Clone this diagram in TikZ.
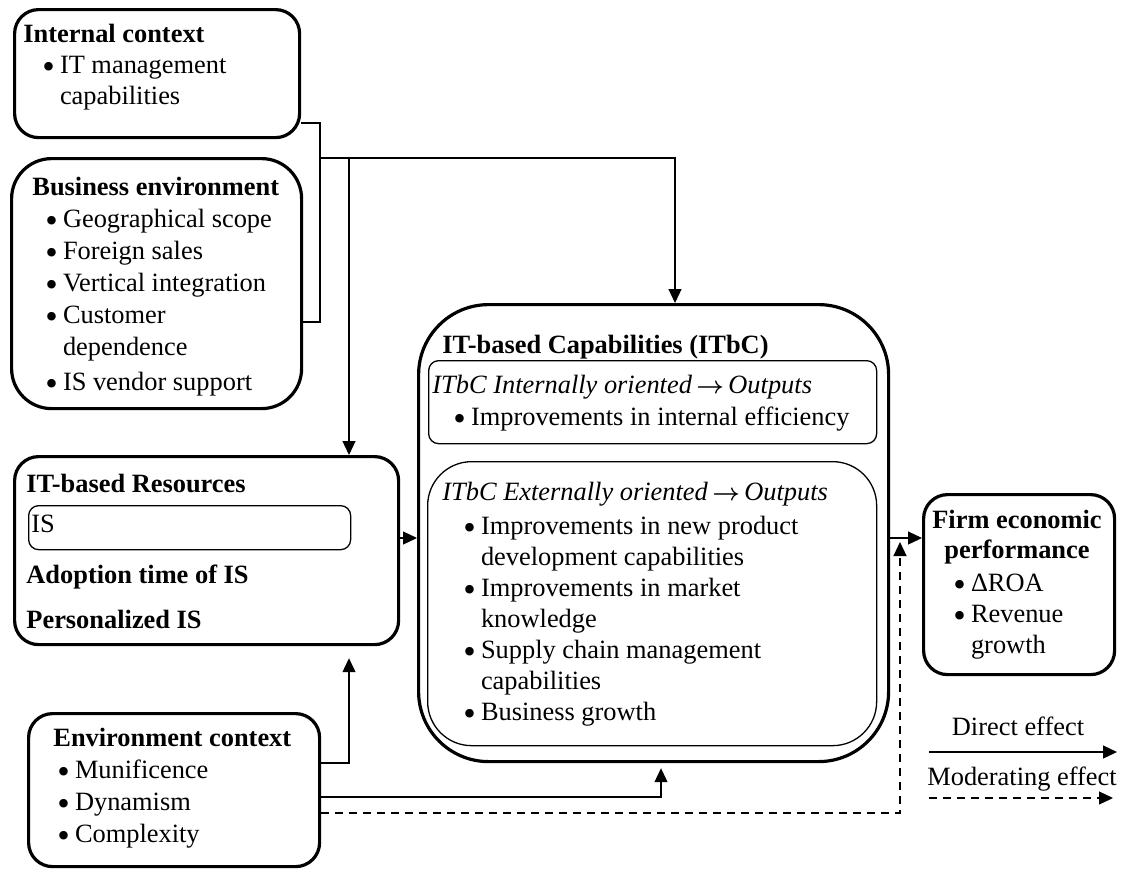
\documentclass[tikz,border=0pt]{standalone}
\usepackage{fontspec}
\usepackage{amsmath}
\usepackage{graphicx}
\setmainfont{Liberation Serif}
\usetikzlibrary{arrows.meta}
\tikzset{
  bigbox/.style={draw,line width=1.6pt,rounded corners=12pt,inner sep=0pt,anchor=north west},
  thinbox/.style={draw,line width=0.65pt,rounded corners=5pt,inner sep=0pt,anchor=north west},
  txt/.style={inner sep=0pt,anchor=base west,align=left,font=\fontsize{13.2}{15.5}\selectfont},
  link/.style={line width=0.6pt,-{Triangle[length=7pt,width=6.5pt]}},
  modlink/.style={link,dash pattern=on 4pt off 3pt},
}
\newcommand{\bul}{\makebox[8.8pt][l]{\raisebox{-2.6pt}{\scalebox{1.35}{\textbullet}}}}
\newcommand{\cont}{\hspace*{8.8pt}}
\newcommand{\goesto}{\,$\boldsymbol{\rightarrow}$\,}
\begin{document}
\begin{tikzpicture}[x=0.5pt,y=-0.5pt]
  \useasboundingbox (0,0) rectangle (1124,868);
  %% context boxes (text nodes sit on the base of their last line)
  \node[bigbox,minimum width=142.5pt,minimum height=64pt] (intctx) at (13,8) {};
  \node[txt] (intctxtxt) at (23,104) {\textbf{Internal context}\\
    \hspace*{9.5pt}\bul IT management\\
    \hspace*{9.5pt}\cont capabilities};
  \node[bigbox,rounded corners=20pt,minimum width=145pt,minimum height=125pt] (bizenv) at (10,157) {};
  \node[txt,font=\fontsize{13.2}{16}\selectfont] (bizenvtxt) at (32,390) {\textbf{Business environment}\\
    \hspace*{6.5pt}\bul Geographical scope\\
    \hspace*{6.5pt}\bul Foreign sales\\
    \hspace*{6.5pt}\bul Vertical integration\\
    \hspace*{6.5pt}\bul Customer\\
    \hspace*{6.5pt}\cont dependence\\[1.5pt]
    \hspace*{6.5pt}\bul IS vendor support};
  \node[bigbox,minimum width=145.5pt,minimum height=76.5pt] (envctx) at (27,712) {};
  \node[txt,font=\fontsize{13.2}{16}\selectfont] (envctxtxt) at (53,842) {\textbf{Environment context}\\
    \hspace*{2pt}\bul Munificence\\
    \hspace*{2pt}\bul Dynamism\\
    \hspace*{2pt}\bul Complexity};
  %% resources
  \node[bigbox,minimum width=192pt,minimum height=94pt] (itres) at (13,455) {};
  \node[txt] (itrestitle) at (26,492) {\textbf{IT-based Resources}};
  \node[thinbox,minimum width=161pt,minimum height=22pt] (isbox) at (28,505) {};
  \node[txt] (istxt) at (31,532) {IS};
  \node[txt] (adopt) at (26,583) {\textbf{Adoption time of IS}};
  \node[txt] (personal) at (26,628) {\textbf{Personalized IS}};
  %% capabilities
  \node[bigbox,rounded corners=35pt,minimum width=235pt,minimum height=228.5pt] (itbc) at (417,303) {};
  \node[txt] (itbctitle) at (442,353) {\textbf{IT-based Capabilities (ITbC)}};
  \node[thinbox,minimum width=224pt,minimum height=41.5pt] (intout) at (428,360) {};
  \node[txt] (intouttxt) at (432,425) {\textit{ITbC Internally oriented}\goesto\textit{Outputs}\\[0.5pt]
    \hspace*{10.5pt}\bul Improvements in internal efficiency};
  \node[thinbox,rounded corners=22pt,minimum width=224.5pt,minimum height=142pt] (extout) at (427,461) {};
  \node[txt] (extouttxt) at (442,720) {\textit{ITbC Externally oriented}\goesto\textit{Outputs}\\[1.5pt]
    \hspace*{10.5pt}\bul Improvements in new product\\
    \hspace*{10.5pt}\cont development capabilities\\
    \hspace*{10.5pt}\bul Improvements in market\\
    \hspace*{10.5pt}\cont knowledge\\
    \hspace*{10.5pt}\bul Supply chain management\\
    \hspace*{10.5pt}\cont capabilities\\
    \hspace*{10.5pt}\bul Business growth};
  %% performance
  \node[bigbox,minimum width=95.5pt,minimum height=90pt] (firm) at (922,493) {};
  \node[txt,anchor=base,align=center,font=\fontsize{13.2}{15}\selectfont] (firmtitle) at (1017,558) {\textbf{Firm economic}\\\textbf{performance}};
  \node[txt] (firmtxt) at (953,653) {\bul ΔROA\\\bul Revenue\\\cont growth};
  %% connectors
  \coordinate (split) at (320,158);
  \coordinate (drop) at (349,158);
  \coordinate (modtip) at (900,542);
  \draw[line width=0.6pt] (intctx.east |- 0,123) -| (320,322) -- (bizenv.east |- 0,322);
  \draw[link] (split) -| (675,0 |- itbc.north);
  \draw[link] (drop) -- (drop |- itres.north);
  \draw[link] (itres.east |- 0,538) -- (itbc.west |- 0,538);
  \draw[link] (itbc.east |- 0,538) -- (firm.west |- 0,538);
  \draw[link,shorten >=6pt] (envctx.east |- 0,763) -| (drop |- itres.south);
  \draw[link,shorten >=2.5pt] (envctx.east |- 0,797) -| (661,0 |- itbc.south);
  \draw[modlink] (envctx.east |- 0,813) -| (modtip);
  %% legend
  \node[txt,anchor=base] (directlbl) at (1018,735) {Direct effect};
  \node[txt,anchor=base] (modlbl) at (1022,785) {Moderating effect};
  \coordinate (dirA) at (929,752);
  \coordinate (dirB) at (1117,752);
  \coordinate (modA) at (929,798);
  \coordinate (modB) at (1113,798);
  \draw[link] (dirA) -- (dirB);
  \draw[modlink] (modA) -- (modB);
\end{tikzpicture}
\end{document}
